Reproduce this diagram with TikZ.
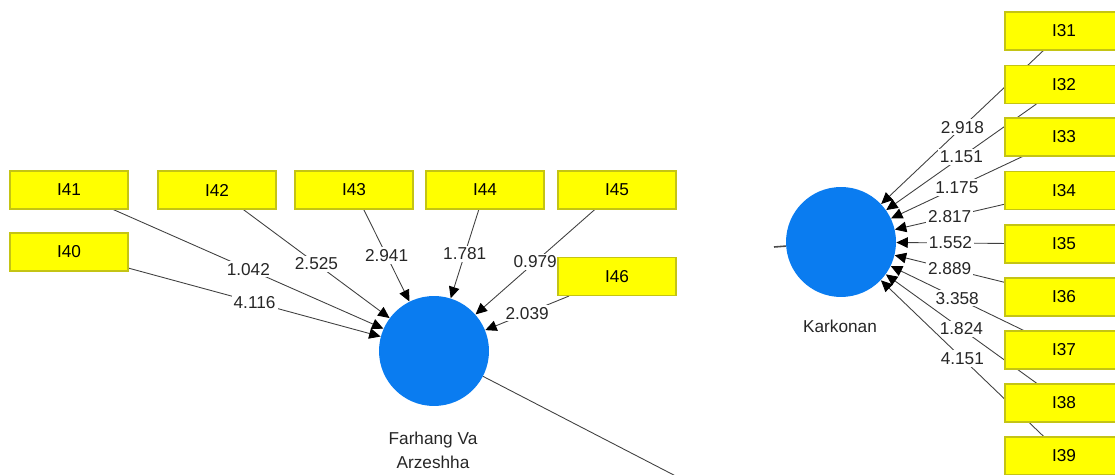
\documentclass[tikz,border=0pt]{standalone}
\usepackage{fontspec}
\setmainfont{Liberation Sans}
\usetikzlibrary{arrows.meta, backgrounds}

\definecolor{indyellow}{RGB}{255,255,0}
\definecolor{indborder}{RGB}{196,196,20}
\definecolor{lvblue}{RGB}{10,124,240}

\tikzset{
  indicator/.style={draw=indborder, fill=indyellow, line width=0.6pt,
    minimum width=2.36cm, minimum height=0.76cm, inner sep=0pt},
  latent/.style={circle, fill=lvblue, minimum size=2.2cm, inner sep=0pt},
  loading/.style={-{Triangle[length=6.5pt, width=6pt, black]}, black!75,
    line width=0.5pt},
  coef/.style={fill=white, inner sep=1.2pt, text=black!85},
  lvname/.style={align=center, text=black!85}
}

\begin{document}
\begin{tikzpicture}[x=0.02cm, y=-0.02cm, font=\fontsize{9.8}{13.6}\selectfont]
  \clip (0,0) rectangle (1115,475);

  % latent variables
  \node[latent] (farhang) at (434,351) {};
  \node[lvname] (farhanglbl) at (433,450) {Farhang Va\\Arzeshha};
  \node[latent] (karkonan) at (841,242) {};
  \node[lvname] (karkonanlbl) at (840,326) {Karkonan};

  % indicators, left block
  \foreach \name/\x/\y in {I40/69/252, I41/69/190, I42/217/190,
      I43/354/190, I44/485/190, I45/617/190, I46/617/276.5}{
    \node[indicator] (\name) at (\x,\y) {\name};
  }

  % indicators, right block
  \foreach \name/\y in {I31/31, I32/84.5, I33/137, I34/190.5, I35/244,
      I36/297, I37/350, I38/403, I39/456}{
    \node[indicator] (\name) at (1064,\y) {\name};
  }

  \coordinate (farhangout) at (724,501);
  \coordinate (karkonanin) at (774,247);

  \begin{scope}[on background layer]
    % outer weights into Farhang Va Arzeshha
    \foreach \name/\w in {I40/4.116, I41/1.042, I42/2.525, I43/2.941,
        I44/1.781, I45/0.979, I46/2.039}{
      \draw[loading] (\name) -- node[coef] {\w} (farhang);
    }
    % outer weights into Karkonan
    \foreach \name/\w in {I31/2.918, I32/1.151, I33/1.175, I34/2.817,
        I35/1.552, I36/2.889, I37/3.358, I38/1.824, I39/4.151}{
      \draw[loading] (\name) -- node[coef] {\w} (karkonan);
    }
    % structural paths
    \draw[black!75, line width=0.5pt] (farhang) -- (farhangout);
    \draw[black!70, line width=0.9pt] (karkonanin) -- (karkonan);
  \end{scope}
\end{tikzpicture}
\end{document}
